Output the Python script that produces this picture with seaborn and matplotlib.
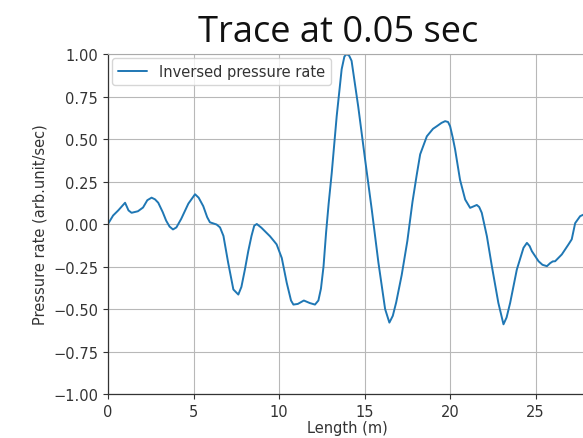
import matplotlib
matplotlib.use("Agg")
import matplotlib.pyplot as plt
import seaborn as sns
import pandas as pd

# Position along the line (m)
length_m = [
    0.0, 0.3, 0.6, 1.0, 1.2, 1.38, 1.75, 2.05, 2.3, 2.55, 2.75, 2.94, 3.2, 3.4,
    3.6, 3.8, 4.0, 4.28, 4.7, 5.09, 5.3, 5.57, 5.8, 5.96, 6.35, 6.55, 6.75,
    7.03, 7.33, 7.62, 7.8, 8.0, 8.2, 8.39, 8.55, 8.7, 8.97, 9.2, 9.47, 9.7,
    9.86, 10.16, 10.45, 10.7, 10.84, 11.1, 11.45, 11.8, 12.1, 12.3, 12.45,
    12.6, 12.75, 12.9, 13.08, 13.37, 13.66, 13.82, 13.95, 14.1, 14.24, 14.63,
    15.03, 15.42, 15.81, 16.2, 16.45, 16.65, 16.85, 17.17, 17.5, 17.8, 18.05,
    18.25, 18.64, 19.0, 19.22, 19.5, 19.71, 19.88, 20.0, 20.15, 20.29, 20.58,
    20.88, 21.17, 21.4, 21.56, 21.7, 21.85, 22.15, 22.44, 22.82, 23.12, 23.3,
    23.51, 23.9, 24.29, 24.49, 24.65, 24.78, 25.17, 25.4, 25.66, 25.85, 26.0,
    26.14, 26.53, 26.92, 27.11, 27.31, 27.6, 27.9,
]

# Inversed pressure rate (arb. unit / sec)
pressure_rate = [
    0.0, 0.05, 0.08, 0.125, 0.08, 0.066, 0.075, 0.097, 0.14, 0.155, 0.145,
    0.125, 0.07, 0.02, -0.015, -0.032, -0.02, 0.03, 0.12, 0.175, 0.155, 0.105,
    0.04, 0.01, -0.003, -0.02, -0.07, -0.23, -0.385, -0.415, -0.37, -0.27,
    -0.16, -0.07, -0.01, 0.0, -0.022, -0.045, -0.072, -0.1, -0.12, -0.2,
    -0.346, -0.45, -0.474, -0.47, -0.45, -0.465, -0.474, -0.45, -0.38, -0.25,
    -0.05, 0.12, 0.3, 0.634, 0.91, 0.985, 1.0, 0.99, 0.96, 0.69, 0.38, 0.085,
    -0.228, -0.5, -0.58, -0.54, -0.46, -0.3, -0.1, 0.13, 0.29, 0.41, 0.516,
    0.56, 0.575, 0.595, 0.605, 0.6, 0.575, 0.51, 0.44, 0.26, 0.144, 0.095,
    0.105, 0.112, 0.1, 0.066, -0.072, -0.248, -0.464, -0.59, -0.55, -0.464,
    -0.268, -0.14, -0.111, -0.13, -0.16, -0.219, -0.24, -0.248, -0.23, -0.22,
    -0.219, -0.179, -0.12, -0.09, 0.005, 0.046, 0.06,
]

x_ticks = [0, 5, 10, 15, 20, 25]
y_ticks = [-1.00, -0.75, -0.50, -0.25, 0.00, 0.25, 0.50, 0.75, 1.00]

sns.set_style("ticks", {"axes.grid": True})
plt.rcParams["font.family"] = ["DejaVu Sans"]

df = pd.DataFrame({"Length (m)": length_m, "rate": pressure_rate})

fig = plt.figure(figsize=(5.83, 4.39), dpi=100)
ax = fig.add_axes([0.1852, 0.1002, 0.8216, 0.7745])

sns.lineplot(data=df, x="Length (m)", y="rate", ax=ax, color="#1f77b4",
             linewidth=1.4, label="Inversed pressure rate", sort=False)

ax.set_xlim(0, 28)
ax.set_ylim(-1, 1)
ax.set_xticks(x_ticks)
ax.set_yticks(y_ticks)
ax.set_yticklabels([f"{v:.2f}".replace("-", "\u2212") for v in y_ticks])
ax.grid(True, color="#b8b8b8", linewidth=0.8)
ax.tick_params(direction="out", length=3.5, width=0.8, colors="#333333",
               labelsize=10.5)
for side in ("left", "bottom"):
    ax.spines[side].set_color("#333333")
    ax.spines[side].set_linewidth(0.9)
ax.spines["top"].set_color("#aaaaaa")
ax.spines["right"].set_color("#aaaaaa")

ax.set_xlabel("Length (m)", fontsize=10.5, color="#333333", labelpad=1)
ax.set_ylabel("Pressure rate (arb.unit/sec)", fontsize=10.5, color="#333333")

leg = ax.legend(loc="upper left", fontsize=10.5, frameon=True, fancybox=True,
                edgecolor="#cccccc", framealpha=0.8, borderaxespad=0.3)
for t in leg.get_texts():
    t.set_color("#333333")

fig.text(0.580, 0.904, "Trace at 0.05 sec", ha="center", va="baseline",
         fontsize=26, family=["Open Sans", "DejaVu Sans"], color="#111111")

fig.savefig("out.png", dpi=100)
